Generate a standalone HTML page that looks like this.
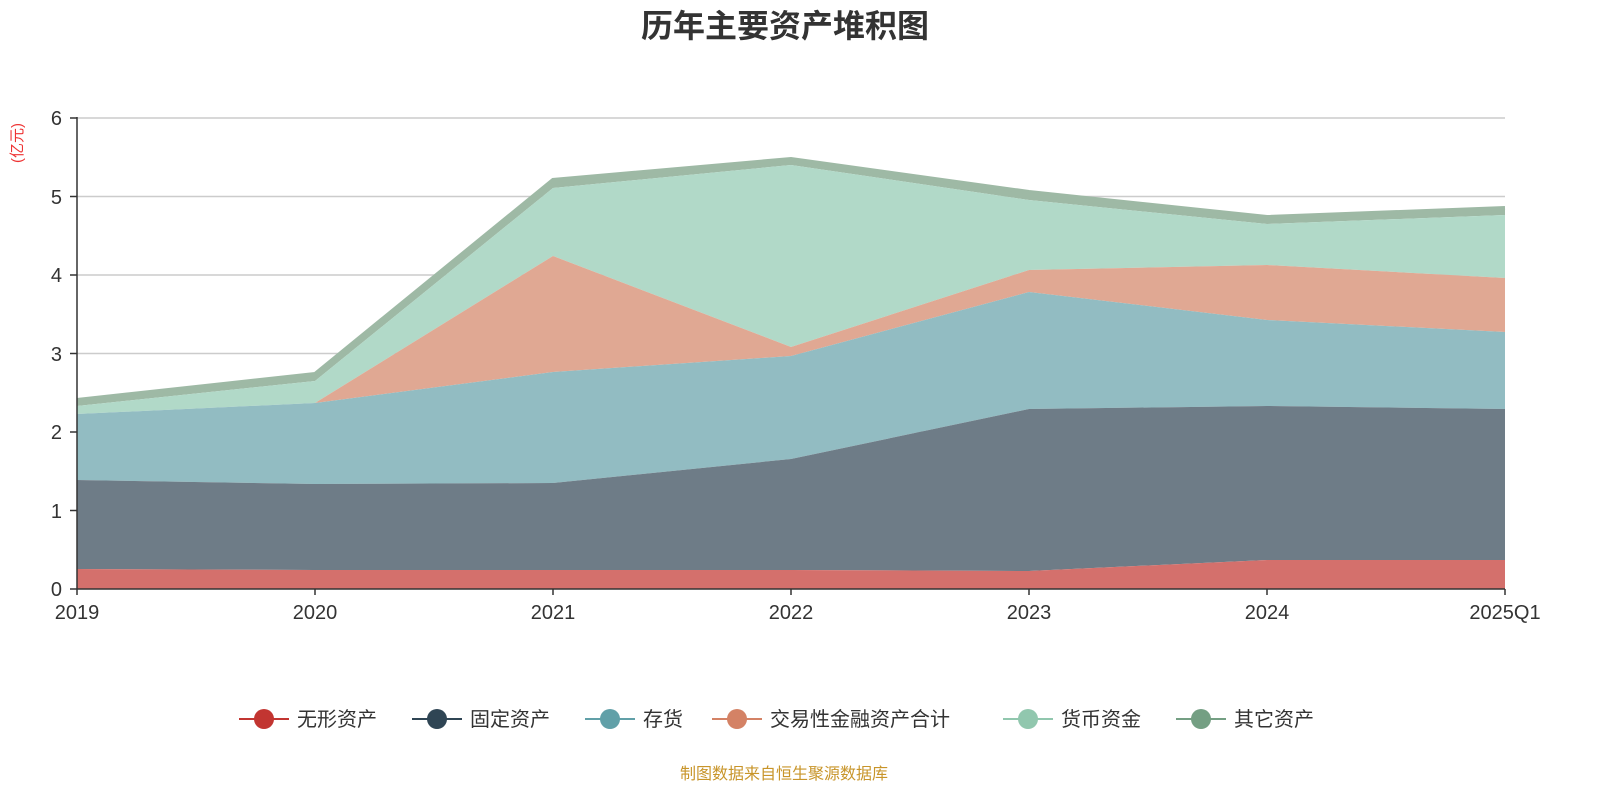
<!DOCTYPE html>
<html><head><meta charset="utf-8"><style>
html,body{margin:0;padding:0;background:#fff;overflow:hidden;width:1600px;height:800px;}
svg{display:block;}
svg text{font-family:"Liberation Sans","Noto Sans CJK SC",sans-serif;}
</style></head><body>
<svg width="1600" height="800" viewBox="0 0 1600 800" xmlns="http://www.w3.org/2000/svg">
<text x="785" y="37" text-anchor="middle" font-size="32" font-weight="bold" fill="#333">历年主要资产堆积图</text>
<text x="22" y="143" font-size="15" fill="#e33" transform="rotate(-90 22 143)" text-anchor="middle">(亿元)</text>
<g stroke="#ccc" stroke-width="1.5">
<line x1="77" y1="118" x2="1505" y2="118"/><line x1="77" y1="196.5" x2="1505" y2="196.5"/>
<line x1="77" y1="275" x2="1505" y2="275"/><line x1="77" y1="353.5" x2="1505" y2="353.5"/>
<line x1="77" y1="432" x2="1505" y2="432"/><line x1="77" y1="510.5" x2="1505" y2="510.5"/>
</g>
<polygon fill="#9eb9a5" points="77,400 315,374 553,180 791,159 1029,192 1267,217 1505,208 1505,215 1267,224 1029,200 791,165 553,188 315,381 77,406"/>
<polygon fill="#b1d9c8" points="77,406 315,381 553,188 791,165 1029,200 1267,224 1505,215 1505,278 1267,265 1029,270 791,347 553,256 315,403 77,414"/>
<polygon fill="#e0a893" points="77,414 315,403 553,256 791,347 1029,270 1267,265 1505,278 1505,332 1267,320 1029,292 791,356 553,372 315,403 77,414"/>
<polygon fill="#92bcc2" points="77,414 315,403 553,372 791,356 1029,292 1267,320 1505,332 1505,409 1267,406 1029,409 791,459 553,483 315,484 77,480"/>
<polygon fill="#6e7c87" points="77,480 315,484 553,483 791,459 1029,409 1267,406 1505,409 1505,560 1267,560 1029,571 791,570 553,570 315,570 77,569"/>
<polygon fill="#d4706c" points="77,569 315,570 553,570 791,570 1029,571 1267,560 1505,560 1505,589 77,589"/>
<polyline fill="none" stroke="#9eb9a5" stroke-width="4" points="77,400 315,374 553,180 791,159 1029,192 1267,217 1505,208"/>
<g stroke="#333" stroke-width="1.5">
<line x1="77" y1="117" x2="77" y2="589"/><line x1="77" y1="589" x2="1505" y2="589"/>
<line x1="70" y1="118" x2="77" y2="118"/><line x1="70" y1="196.5" x2="77" y2="196.5"/><line x1="70" y1="275" x2="77" y2="275"/><line x1="70" y1="353.5" x2="77" y2="353.5"/><line x1="70" y1="432" x2="77" y2="432"/><line x1="70" y1="510.5" x2="77" y2="510.5"/><line x1="70" y1="589" x2="77" y2="589"/>
<line x1="77" y1="589" x2="77" y2="595"/><line x1="315" y1="589" x2="315" y2="595"/><line x1="553" y1="589" x2="553" y2="595"/><line x1="791" y1="589" x2="791" y2="595"/><line x1="1029" y1="589" x2="1029" y2="595"/><line x1="1267" y1="589" x2="1267" y2="595"/><line x1="1505" y1="589" x2="1505" y2="595"/>
</g>
<g font-size="20" fill="#333" text-anchor="end">
<text x="62" y="125">6</text><text x="62" y="204">5</text><text x="62" y="282">4</text><text x="62" y="361">3</text><text x="62" y="439">2</text><text x="62" y="518">1</text><text x="62" y="596">0</text>
</g>
<g font-size="20" fill="#333" text-anchor="middle">
<text x="77" y="619">2019</text><text x="315" y="619">2020</text><text x="553" y="619">2021</text><text x="791" y="619">2022</text><text x="1029" y="619">2023</text><text x="1267" y="619">2024</text><text x="1505" y="619">2025Q1</text>
</g>
<g font-size="20" fill="#333">
<line x1="239" y1="719" x2="289" y2="719" stroke="#c23531" stroke-width="2"/><circle cx="264" cy="719" r="10" fill="#c23531"/><text x="297" y="726">无形资产</text>
<line x1="412" y1="719" x2="462" y2="719" stroke="#2f4554" stroke-width="2"/><circle cx="437" cy="719" r="10" fill="#2f4554"/><text x="470" y="726">固定资产</text>
<line x1="585" y1="719" x2="635" y2="719" stroke="#61a0a8" stroke-width="2"/><circle cx="610" cy="719" r="10" fill="#61a0a8"/><text x="643" y="726">存货</text>
<line x1="712" y1="719" x2="762" y2="719" stroke="#d48265" stroke-width="2"/><circle cx="737" cy="719" r="10" fill="#d48265"/><text x="770" y="726">交易性金融资产合计</text>
<line x1="1003" y1="719" x2="1053" y2="719" stroke="#91c7ae" stroke-width="2"/><circle cx="1028" cy="719" r="10" fill="#91c7ae"/><text x="1061" y="726">货币资金</text>
<line x1="1176" y1="719" x2="1226" y2="719" stroke="#749f83" stroke-width="2"/><circle cx="1201" cy="719" r="10" fill="#749f83"/><text x="1234" y="726">其它资产</text>
</g>
<text x="784" y="779" text-anchor="middle" font-size="16" fill="#c8952a">制图数据来自恒生聚源数据库</text>
</svg>
</body></html>
